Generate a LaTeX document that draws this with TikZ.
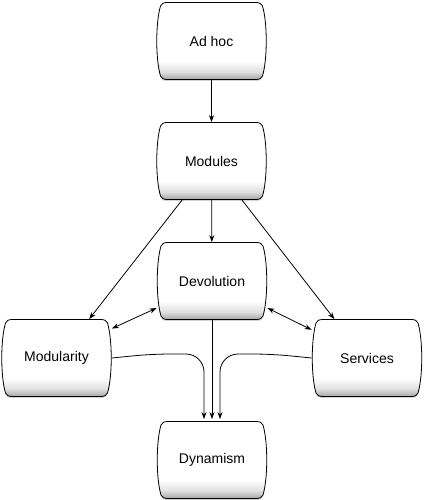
\documentclass[tikz,border=0pt]{standalone}
\usepackage{fontspec}
\setmainfont{Liberation Sans}
\usetikzlibrary{shadows,arrows.meta,calc}
\pgfdeclareverticalshading{pillshade}{100bp}{color(0bp)=(black!35); color(25bp)=(black!35);
  color(30bp)=(black!12); color(37bp)=(white); color(100bp)=(white)}
\tikzset{pillbox/.style={rectangle,minimum width=110pt,minimum height=77pt,inner sep=0pt,
    font=\fontsize{14}{16}\selectfont},
  pillshape/.style={draw,line width=0.8pt,shading=pillshade,
    drop shadow={shadow xshift=0pt,shadow yshift=-1.5pt,opacity=.35}}}
\newcommand\pillnode[3]{%
  \begin{scope}[shift={(#2)}]
    \path[pillshape] (-44,-38.5) -- (44,-38.5)
      .. controls (48,-38.5) and (50,-37.5) .. (51,-35)
      .. controls (56,-18) and (56,18) .. (51,35)
      .. controls (50,37.5) and (48,38.5) .. (44,38.5) -- (-44,38.5)
      .. controls (-48,38.5) and (-50,37.5) .. (-51,35)
      .. controls (-56,18) and (-56,-18) .. (-51,-35)
      .. controls (-50,-37.5) and (-48,-38.5) .. cycle;
  \end{scope}
  \node [pillbox] (#1) at (#2) {#3};}

\begin{document}
\begin{tikzpicture}[x=1pt,y=-1pt,>={Stealth[length=7pt,width=5pt]}]
  \useasboundingbox (0,0) rectangle (424,500);
  \pgfsetlinewidth{0.8pt}

  \pillnode{adhoc}{211.5,41}{Ad hoc}
  \pillnode{modules}{211.5,161}{Modules}
  \pillnode{devol}{212,281}{Devolution}
  \pillnode{modul}{56.5,358}{Modularity}
  \pillnode{serv}{367,358}{Services}
  \pillnode{dyn}{212,460}{Dynamism}
  \coordinate (dl) at ($(dyn.north)+(-8,-2)$);
  \coordinate (dc) at ($(dyn.north)+(0,-2)$);
  \coordinate (dr) at ($(dyn.north)+(8,-2)$);

  \draw [->] (adhoc) -- (modules);
  \draw [->] (modules) -- (devol);
  \draw [->] (modules.233) -- (modul.50);
  \draw [->] (modules.308) -- (serv.130);
  \draw [<->] (devol.206) -- (modul.28);
  \draw [<->] (devol.334) -- (serv.153);
  \draw [->] (devol) -- (dc);
  \draw [->,rounded corners=18pt] (modul.east) -- ++(40,-4) -| (dl);
  \draw [->,rounded corners=18pt] (serv.west) -- ++(-40,-4) -| (dr);
\end{tikzpicture}
\end{document}
